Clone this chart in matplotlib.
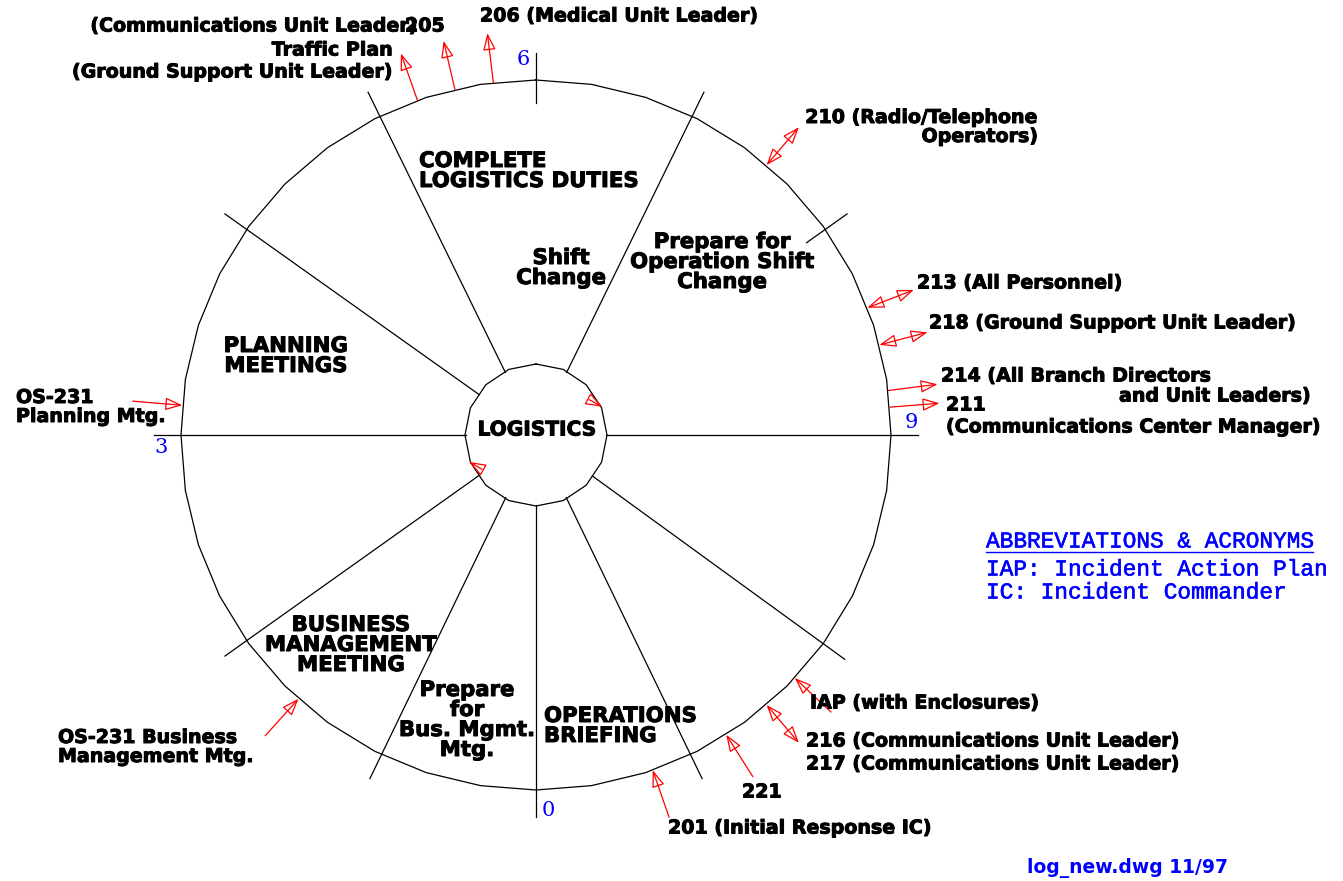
"""
Logistics section meeting/forms cycle diagram (log_new.dwg).
"""

import numpy as np
import matplotlib
matplotlib.use("Agg")
import matplotlib.pyplot as plt
import matplotlib.patheffects as pe

# --- diagram values -------------------------------------------------------
# positions on the 12-hour cycle (0 = bottom, 3 = left, 6 = top, 9 = right)
line_hours = [0, 0.86, 1.82, 3, 4.18, 5.13, 6.87, 9, 10.2, 11.14]
tick_hours = [6, 7.82]
clock_hours = [0, 3, 6, 9]
clock_labels = ["0", "3", "6", "9"]

arrow_out_hours = [5.35, 5.56, 5.77, 8.76, 8.85]      # pointing away from circle
arrow_in_hours = [3.16, 1.40, 10.44, 10.92, 11.36]    # pointing onto circle
arrow_both_hours = [7.35, 8.30, 8.51, 10.65]          # double headed
flow_hours = [8.23, 2.27]                              # direction marks on hub

sector_labels = [
    "COMPLETE\nLOGISTICS DUTIES",
    "Shift\nChange",
    "Prepare for\nOperation Shift\nChange",
    "PLANNING\nMEETINGS",
    "BUSINESS\nMANAGEMENT\nMEETING",
    "Prepare\nfor\nBus. Mgmt.\nMtg.",
    "OPERATIONS\nBRIEFING",
]
form_labels = [
    "206 (Medical Unit Leader)",
    "205",
    "(Communications Unit Leader)",
    "Traffic Plan",
    "(Ground Support Unit Leader)",
    "210 (Radio/Telephone\nOperators)",
    "213 (All Personnel)",
    "218 (Ground Support Unit Leader)",
    "214 (All Branch Directors",
    "and Unit Leaders)",
    "211",
    "(Communications Center Manager)",
    "OS-231\nPlanning Mtg.",
    "OS-231 Business\nManagement Mtg.",
    "IAP (with Enclosures)",
    "216 (Communications Unit Leader)",
    "217 (Communications Unit Leader)",
    "221",
    "201 (Initial Response IC)",
]
abbrev_lines = [
    "ABBREVIATIONS & ACRONYMS",
    "IAP: Incident Action Plan",
    "IC: Incident Commander",
]
drawing_id = "log_new.dwg 11/97"

# --- layout ---------------------------------------------------------------
W, H = 1343, 881
CX, CY, R = 536, 435, 355
HUB = 0.2
N_OUTER, N_INNER = 40, 16

sector_pos = [(419, 171, "left"), (561, 268, "center"), (722, 262, "center"),
              (286, 356, "center"), (351, 645, "center"), (467, 720, "center"),
              (544, 726, "left")]
form_pos = [(480, 16, "left"), (405, 26, "left"), (418, 26, "right"),
            (393, 50, "right"), (393, 72, "right"), (1038, 127, "right"),
            (917, 283, "left"), (929, 323, "left"), (941, 376, "left"),
            (1311, 396, "right"), (946, 405, "left"), (946, 427, "left"),
            (16, 407, "left"), (58, 747, "left"), (810, 703, "left"),
            (806, 741, "left"), (806, 764, "left"), (742, 792, "left"),
            (668, 828, "left")]
abbrev_y = [541, 569, 592]
BLUE = "#0000ff"


def pt(h, r):
    """Hour on the cycle + radius (in circle radii) -> drawing coordinates."""
    th = np.radians(-90 - 30 * np.asarray(h, dtype=float))
    r = np.asarray(r, dtype=float)
    return CX + R * r * np.cos(th), CY - R * r * np.sin(th)


fig = plt.figure(figsize=(W / 100, H / 100), dpi=100)
ax = fig.add_axes([0, 0, 1, 1])
ax.set_xlim(0, W)
ax.set_ylim(H, 0)
ax.axis("off")

# outer ring and hub, both drawn as polygons like the CAD original
for n, r in [(N_OUTER, 1.0), (N_INNER, HUB)]:
    hs = 6 + np.arange(n + 1) * 12 / n
    x, y = pt(hs, r)
    ax.plot(x, y, color="black", lw=0.9)

apothem = HUB * np.cos(np.pi / N_INNER)
for h in line_hours:
    x, y = pt([h, h], [apothem, 1.075])
    ax.plot(x, y, color="black", lw=0.9)
for h in tick_hours:
    x, y = pt([h, h], [0.935, 1.075])
    ax.plot(x, y, color="black", lw=0.9)

for h, s in zip(clock_hours, clock_labels):
    x, y = pt(h - 0.065, 1.057)
    ax.text(x, y, s, color=BLUE, fontsize=15, family="DejaVu Serif",
            ha="center", va="center")


def arrow(tail, tip, style):
    ax.annotate("", xy=tip, xytext=tail,
                arrowprops=dict(arrowstyle=style + ",head_length=0.8,head_width=0.3",
                                ec="red", fc="none", lw=0.9, mutation_scale=13,
                                shrinkA=0, shrinkB=0))


for h in arrow_out_hours:
    arrow(pt(h, 1.0), pt(h, 1.14), "-|>")
for h in arrow_in_hours:
    arrow(pt(h, 1.14), pt(h, 1.0), "-|>")
for h in arrow_both_hours:
    arrow(pt(h, 1.0), pt(h, 1.14), "<|-|>")
for h in flow_hours:
    arrow(pt(h - 0.35, 0.18), pt(h, 0.203), "-|>")

heavy = [pe.withStroke(linewidth=0.7, foreground="black")]
bold = dict(family="DejaVu Sans", weight="bold", color="black", va="center",
            path_effects=heavy)
for s, (x, y, ha) in zip(sector_labels, sector_pos):
    ax.text(x, y, s, fontsize=15.3, ha=ha, multialignment=ha,
            linespacing=1.0, **bold)
ax.text(CX + 1, 430, "LOGISTICS", fontsize=14.5, ha="center", **bold)

for s, (x, y, ha) in zip(form_labels, form_pos):
    ax.text(x, y, s, fontsize=13.7, ha=ha, multialignment=ha,
            linespacing=1.0, **bold)

abbrev_texts = []
for s, y in zip(abbrev_lines, abbrev_y):
    abbrev_texts.append(ax.text(986, y, s, color=BLUE, fontsize=16.4,
                                family="Liberation Mono", ha="left", va="center",
                                path_effects=[pe.withStroke(linewidth=0.4,
                                                            foreground=BLUE)]))

ax.text(1027, 868, drawing_id, color=BLUE, fontsize=13.5, ha="left",
        va="center", family="DejaVu Sans", weight="bold")

# underline the heading using its rendered extent
fig.canvas.draw()
bb = abbrev_texts[0].get_window_extent().transformed(ax.transData.inverted())
ax.plot([bb.x0, bb.x1], [552, 552], color=BLUE, lw=1.0)

fig.savefig("out.png", dpi=100)
plt.close(fig)
